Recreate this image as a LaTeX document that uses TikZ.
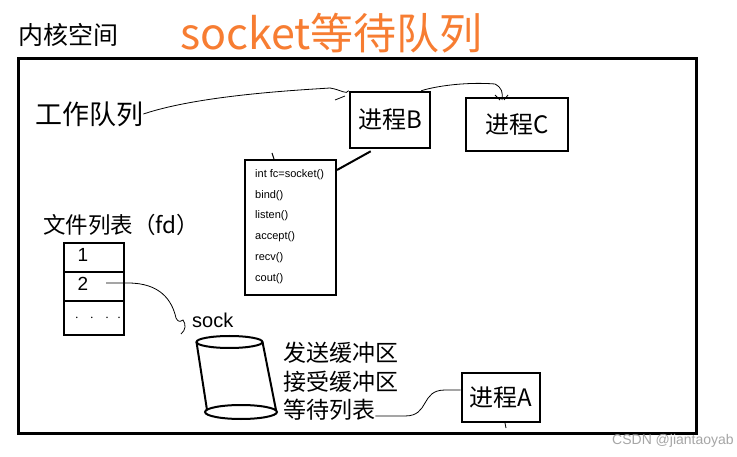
\documentclass[tikz,border=0pt]{standalone}
\usepackage{fontspec}
\setmainfont{Noto Sans CJK SC}
\newfontfamily\cjk{Noto Sans CJK SC}
\newfontfamily\lat{Liberation Sans}
\definecolor{orangetitle}{RGB}{247,125,50}
\begin{document}
\begin{tikzpicture}[x=1pt,y=-1pt,
  box/.style={draw,line width=2.6pt,inner sep=0pt},
  wire/.style={line width=0.8pt},
  lbl/.style={inner sep=0pt,anchor=west}]
\useasboundingbox (0,0) rectangle (737,457);
\fill[white] (0,0) rectangle (737,457);
% main frame
\node[box,minimum width=678pt,minimum height=375pt,anchor=north west] (frame) at (17,57) {};
% titles
\node[lbl,font=\cjk\fontsize{25}{25}\selectfont] (kernel) at (18,35) {内核空间};
\node[lbl,font=\cjk\fontsize{43}{43}\selectfont,text=orangetitle] (title) at (180,33) {socket等待队列};
% work queue
\node[lbl,font=\cjk\fontsize{27}{27}\selectfont] (wq) at (35,114) {工作队列};
% processes
\node[box,minimum width=80pt,minimum height=56pt,font=\cjk\fontsize{24}{24}\selectfont] (pB) at (390,120) {进程B};
\node[box,minimum width=102pt,minimum height=53pt,font=\cjk\fontsize{24}{24}\selectfont] (pC) at (517,124.5) {进程C};
\node[box,minimum width=78pt,minimum height=49pt,font=\cjk\fontsize{24}{24}\selectfont] (pA) at (501,397.5) {进程A};
% code box
\node[draw,line width=2pt,minimum width=91pt,minimum height=135pt] (code) at (290.5,227.5) {};
\begin{scope}[font=\lat\fontsize{11}{11}\selectfont]
\node[lbl] (c1) at (255,175) {int fc=socket()};
\node[lbl] (c2) at (255,196) {bind()};
\node[lbl] (c3) at (255,216) {listen()};
\node[lbl] (c4) at (255,237) {accept()};
\node[lbl] (c5) at (255,258) {recv()};
\node[lbl] (c6) at (255,279) {cout()};
\end{scope}
\draw[line width=2pt] (pB.south west) ++(22,2) coordinate (bl) -- (code.north east |- 0,170) coordinate (cr);
\draw[line width=1pt] (272,153) -- (274,159);
% file list
\node[lbl,font=\cjk\fontsize{22.5}{22.5}\selectfont] (fl) at (43,225) {文件列表（fd）};
\node[draw,line width=2.4pt,minimum width=60pt,minimum height=29pt,anchor=north west] (r1) at (63,242) {};
\node[draw,line width=2.4pt,minimum width=60pt,minimum height=29pt,anchor=north west] (r2) at (63,271) {};
\node[draw,line width=2.4pt,minimum width=60pt,minimum height=34pt,anchor=north west] (r3) at (63,300) {};
\node[font=\lat\fontsize{19}{19}\selectfont] (n1) at (83,255) {1};
\node[font=\lat\fontsize{19}{19}\selectfont] (n2) at (83,284) {2};
\node[font=\lat\fontsize{14}{14}\selectfont] (n3) at (98,318) {$\cdot\;\;\cdot\;\;\cdot\;\;\cdot$};
% sock
\node[lbl,font=\lat\fontsize{20}{20}\selectfont] (sock) at (192,320) {sock};
\coordinate (f2) at (106,283);
\draw[wire] (f2) -- (128,283) .. controls (160,283) and (172,300) .. (176,318)
  .. controls (178,322) and (180,322) .. (183,320) .. controls (186,324) and (186,330) .. (181,334);
% cylinder
\draw[line width=2pt] (229.5,342) ellipse (33 and 6);
\draw[line width=2pt] (241,412) ellipse (36 and 7);
\draw[line width=2pt] (196.5,342) -- (207,410);
\draw[line width=2pt] (262.5,342) -- (276,410);
% buffers
\node[lbl,font=\cjk\fontsize{23}{23}\selectfont] (send) at (283,353) {发送缓冲区};
\node[lbl,font=\cjk\fontsize{23}{23}\selectfont] (recvb) at (283,382) {接受缓冲区};
\node[lbl,font=\cjk\fontsize{23}{23}\selectfont] (wait) at (283,410) {等待列表};
% connectors
\draw[wire] (wait.east) ++(0,6) -- (405,416) .. controls (430,416) and (420,390) .. (445,390) -- (pA.west |- 0,390);
\draw[wire] (wq.east) .. controls (200,95) and (300,90) .. (330,88)
  .. controls (342,90) and (346,95) .. (pB.north west);
\draw[wire] (335,100) -- (345,96);
\draw[wire] (pB.north east) ++(-10,0) .. controls (440,85) and (470,82) .. (495,84)
  .. controls (502,88) and (503,92) .. (502,100);
\draw[wire] (495,95) -- (500,100) (508,95) -- (504,100);
\draw[wire] (505,423) -- (506,428);
% watermark
\node[anchor=east,inner sep=0pt,font=\lat\fontsize{14}{14}\selectfont,text=gray!70] (wm) at (734,441) {CSDN @jiantaoyab};
\end{tikzpicture}
\end{document}
